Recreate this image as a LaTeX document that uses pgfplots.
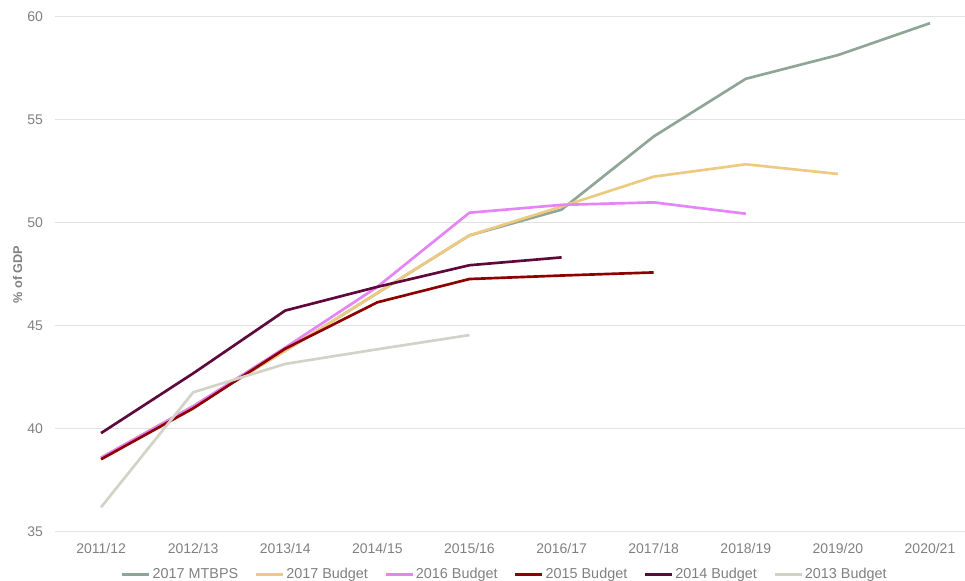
\documentclass[border=0pt]{standalone}
\usepackage{fontspec}
\setmainfont{Liberation Sans}
\usepackage{pgfplots}
\pgfplotsset{compat=1.18}
\definecolor{cMTBPS}{RGB}{143,166,150}
\definecolor{cB17}{RGB}{238,202,128}
\definecolor{cB16}{RGB}{228,132,245}
\definecolor{cB15}{RGB}{142,0,0}
\definecolor{cB14}{RGB}{94,8,60}
\definecolor{cB13}{RGB}{210,210,198}
\definecolor{txtgray}{RGB}{128,128,128}
\definecolor{gridgray}{RGB}{226,226,226}
\begin{document}
\begin{tikzpicture}
\begin{axis}[
  at={(41.25pt,36.75pt)}, anchor=south west,
  scale only axis, width=682.5pt, height=386.25pt,
  xmin=-0.5, xmax=9.38, ymin=35, ymax=60,
  xtick={0,...,9},
  xticklabels={2011/12,2012/13,2013/14,2014/15,2015/16,2016/17,2017/18,2018/19,2019/20,2020/21},
  ytick={35,40,45,50,55,60},
  axis line style={draw=none},
  major tick length=0pt,
  ymajorgrids, grid style={gridgray, line width=0.75pt},
  /pgf/number format/assume math mode=true,
  tick label style={font=\fontsize{10.5pt}{12pt}\selectfont, text=txtgray},
  xticklabel style={yshift=-5pt},
  yticklabel style={xshift=-5.5pt},
  ylabel={\% of GDP},
  every axis y label/.style={at={(axis description cs:0,0.5)}, xshift=-28pt, rotate=90, anchor=center,
    font=\fontsize{9.5pt}{11pt}\selectfont\bfseries, text=txtgray},
  legend columns=6,
  legend style={at={(axis description cs:0.0722,-0.0665)}, anchor=north west,
    draw=none, fill=none, inner xsep=0pt, inner ysep=0pt,
    nodes={inner sep=1.5pt, font=\fontsize{10.8pt}{12pt}\selectfont, text=txtgray},
    /tikz/every even column/.append style={column sep=10.75pt}},
  legend image code/.code={\draw[#1] (0pt,0pt) -- (20.25pt,0pt);},
  every axis plot/.append style={line width=2pt, mark=none},
]
\addplot[cMTBPS] coordinates {(0,38.6) (1,41.1) (2,43.8) (3,46.6) (4,49.4) (5,50.65) (6,54.2) (7,57.0) (8,58.15) (9,59.7)};
\addlegendentry{2017 MTBPS}
\addplot[cB17] coordinates {(0,38.6) (1,41.1) (2,43.8) (3,46.6) (4,49.4) (5,50.8) (6,52.25) (7,52.85) (8,52.38)};
\addlegendentry{2017 Budget}
\addplot[cB16] coordinates {(0,38.6) (1,41.1) (2,43.95) (3,46.9) (4,50.5) (5,50.88) (6,51.0) (7,50.45)};
\addlegendentry{2016 Budget}
\addplot[cB15] coordinates {(0,38.53) (1,41.0) (2,43.9) (3,46.15) (4,47.28) (5,47.45) (6,47.6)};
\addlegendentry{2015 Budget}
\addplot[cB14] coordinates {(0,39.8) (1,42.7) (2,45.75) (3,46.9) (4,47.95) (5,48.33)};
\addlegendentry{2014 Budget}
\addplot[cB13] coordinates {(0,36.2) (1,41.78) (2,43.16) (3,43.87) (4,44.56)};
\addlegendentry{2013 Budget}
\end{axis}
\pgfresetboundingbox
\useasboundingbox (0,0) rectangle (723.75pt,435.75pt);
\end{tikzpicture}
\end{document}
